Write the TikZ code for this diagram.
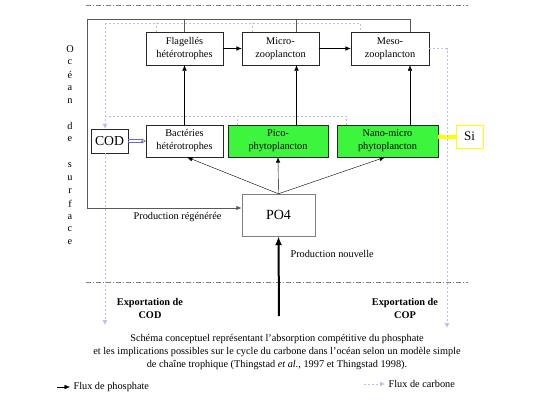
\documentclass[tikz,border=0pt]{standalone}
\usepackage{fontspec}
\setmainfont{Liberation Serif}
\usetikzlibrary{arrows.meta,calc}

\definecolor{carbone}{RGB}{190,190,238}
\definecolor{codbleu}{RGB}{105,105,200}
\definecolor{vert}{RGB}{60,245,60}
\definecolor{jaune}{RGB}{255,255,0}

\begin{document}
\begin{tikzpicture}[x=1pt,y=-1pt,
    font=\fontsize{10.3}{13}\selectfont,
    boite/.style={draw=black!85,fill=white,align=center,inner sep=1pt},
    phyto/.style={boite,fill=vert},
    flux/.style={-{Latex[length=5.5pt,width=4.5pt]}},
    regen/.style={draw=gray!70!black,line width=0.9pt},
    cflux/.style={draw=carbone,line width=0.8pt,dash pattern=on 2pt off 2pt},
    ctip/.style={-{Latex[length=5pt,width=5pt,fill=carbone]}},
    sep/.style={draw=gray,line width=0.9pt,dash pattern=on 5pt off 2pt on 1pt off 2pt}]
       \useasboundingbox(0,0)rectangle(547,416);

       \coordinate(s1)at(86,5);%haut gauche
       \coordinate(s2)at(468,5);
       \coordinate(s3)at(86,282);%limite de la couche de surface
       \coordinate(s4)at(468,282);
       \draw[sep](s1)--(s2);
       \draw[sep](s3)--(s4);

       % boites
       \node[boite,minimum width=77,minimum height=33](flag)at(184.5,48.5){Flagellés\\hétérotrophes};
       \node[boite,minimum width=77,minimum height=33](micro)at(280.5,48.5){Micro-\\zooplancton};
       \node[boite,minimum width=78,minimum height=33](meso)at(390,48.5){Meso-\\zooplancton};
       \node[boite,minimum width=77,minimum height=32](bact)at(184.5,141){Bactéries\\hétérotrophes};
       \node[phyto,minimum width=100,minimum height=32](pico)at(278,141){Pico-\\phytoplancton};
       \node[phyto,minimum width=101,minimum height=32](nano)at(387.5,141){Nano-micro\\phytoplancton};
       \node[boite,draw=jaune,minimum width=27,minimum height=23,font=\fontsize{13}{13}\selectfont](si)at(469.5,136.5){Si};
       \node[boite,minimum width=37,minimum height=24,font=\fontsize{13.7}{14}\selectfont](cod)at(109.5,141){COD};
       \node[boite,draw=gray,minimum width=73,minimum height=42,font=\fontsize{14}{14}\selectfont](po4)at(278.5,215){PO4};

       \draw[jaune,line width=4pt](si.west-|nano.east)--(si.west);%silice

       % production regeneree
       \coordinate(hg)at(87,19);%coin haut gauche
       \coordinate(bg)at(87,208);%coin bas gauche
       \draw[regen](flag.north)--(flag.north|-hg);
       \draw[regen]([xshift=16pt]micro.north)--([xshift=16pt]micro.north|-hg);
       \draw[regen,flux]([xshift=20pt]meso.north)|-(hg)--(bg)--(bg-|po4.west);

       % flux de phosphate
       \draw[flux](bact.north)--(bact.north|-flag.south);
       \draw[flux]([xshift=16pt]micro.south|-pico.north)--([xshift=16pt]micro.south);
       \draw[flux]([xshift=20pt]meso.south|-nano.north)--([xshift=20pt]meso.south);
       \draw[flux](flag)--(micro);
       \draw[flux](micro)--(meso);
       \draw[flux](po4.north)--([xshift=2.5pt]bact.south);
       \draw[flux](po4.north)--(pico.south);
       \draw[flux](po4.north)--([xshift=-2.5pt]nano.south);
       \coordinate(fond)at(279,316);%production nouvelle
       \draw[line width=2pt,-{Latex[length=9pt,width=7pt]}](fond)--(po4.south);

       % flux de carbone
       \coordinate(c1)at(105,23);
       \coordinate(c3)at(105,116);
       \coordinate(c6)at(105,325);%export COD
       \coordinate(c7)at(447,328);%export COP
       \draw[cflux](c1)--([xshift=-30pt]meso.north|-c1)--([xshift=-30pt]meso.north);
       \foreach \b in{flag,micro}
           \draw[cflux]([xshift=-28.5pt]\b.north)--([xshift=-28.5pt]\b.north|-c1);
       \draw[cflux](c3)--([xshift=-41pt]nano.north|-c3)--([xshift=-41pt]nano.north);
       \draw[cflux]([xshift=-41pt]pico.north)--([xshift=-41pt]pico.north|-c3);
       \draw[cflux,ctip](c1)--(c1|-cod.north);
       \draw[cflux,ctip](c1|-cod.south)--(c6);
       \draw[cflux,ctip](meso.east)-|(c7);
       \draw[codbleu,line width=0.7pt,-{Triangle[open,length=4pt,width=5pt]}](cod.east)--(bact.west);%COD vers bacteries
       \draw[codbleu,line width=0.7pt]([yshift=1.4pt]cod.east)--([xshift=-4pt,yshift=1.4pt]bact.west);
       \draw[codbleu,line width=0.7pt]([yshift=-1.4pt]cod.east)--([xshift=-4pt,yshift=-1.4pt]bact.west);
       \draw[white,line width=1.4pt]([xshift=0.4pt]cod.east)--([xshift=-4.4pt]bact.west);

       % textes
       \foreach \l/\k in{O/0,c/1,é/2,a/3,n/4,d/6,e/7,s/9,u/10,r/11,f/12,a/13,c/14,e/15}
           \node(o\k)at(70,{49+12.9*\k}){\l};%Océan de surface
       \node(preg)at(177.5,217){Production régénérée};
       \node[anchor=west](pnouv)at(287,254){Production nouvelle};
       \node[font=\fontsize{10.3}{13}\selectfont\bfseries,align=center](expcod)at(150,308){Exportation de\\COD};
       \node[font=\fontsize{10.3}{13}\selectfont\bfseries,align=center](expcop)at(405,308){Exportation de\\COP};
       \node[align=center](titre)at(277,352){Schéma conceptuel représentant l’absorption compétitive du phosphate\\
           et les implications possibles sur le cycle du carbone dans l’océan selon un modèle simple\\
           de chaîne trophique (Thingstad \textit{et al.}, 1997 et Thingstad 1998).};

       % legende
       \node[anchor=west](lphos)at(70,387){Flux de phosphate};
       \coordinate(lp)at(57,387);
       \draw[flux](lp)--(lphos.west);
       \node[anchor=west](lcarb)at(385,384){Flux de carbone};
       \coordinate(lc)at(364,384);
       \draw[cflux,ctip](lc)--(lcarb.west);
\end{tikzpicture}
\end{document}
